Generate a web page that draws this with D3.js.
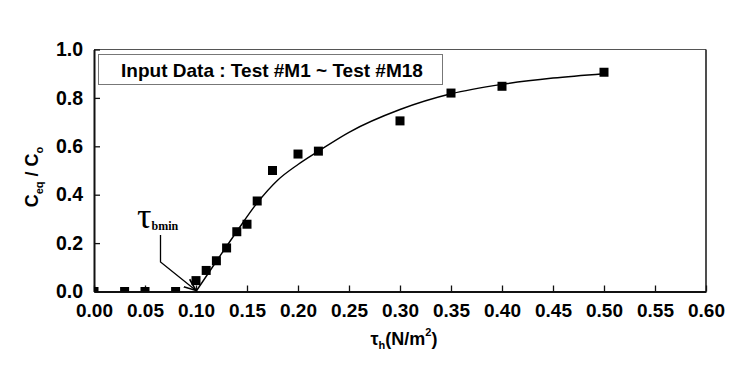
<!DOCTYPE html>
<html>
<head>
<meta charset="utf-8">
<script src="https://cdn.jsdelivr.net/npm/d3@7"></script>
<style>
  body { margin: 0; background: #fff; }
  svg { display: block; }
  .tick text { font-family: "Liberation Sans", Arial, sans-serif; font-weight: bold; }
</style>
</head>
<body>
<svg width="756" height="368"></svg>
<script>
// measured points (tau_h, Ceq/Co)
const tauH = [0.00, 0.03, 0.05, 0.08, 0.10, 0.11, 0.12, 0.13, 0.14, 0.15, 0.16, 0.175, 0.20, 0.22, 0.30, 0.35, 0.40, 0.50];
const ceqRatio = [0.0, 0.0, 0.0, 0.0, 0.045, 0.087, 0.127, 0.18, 0.247, 0.278, 0.374, 0.50, 0.568, 0.58, 0.705, 0.82, 0.848, 0.906];

// fitted curve
const fitX = [0.10, 0.12, 0.14, 0.16, 0.18, 0.20, 0.22, 0.25, 0.30, 0.35, 0.40, 0.45, 0.50];
const fitY = [0.0, 0.125, 0.248, 0.366, 0.46, 0.525, 0.58, 0.658, 0.752, 0.817, 0.856, 0.882, 0.90];

const xTicks = [0, 0.05, 0.1, 0.15, 0.2, 0.25, 0.3, 0.35, 0.4, 0.45, 0.5, 0.55, 0.6];
const yTicks = [0, 0.2, 0.4, 0.6, 0.8, 1.0];
const legendLabel = "Input Data : Test #M1 ~ Test #M18";
const tauMin = 0.10;

const svg = d3.select("svg");
const mLeft = 94, mRight = 706, mTop = 49.5, mBottom = 291.5;

const x = d3.scaleLinear().domain([0, 0.6]).range([mLeft, mRight]);
const y = d3.scaleLinear().domain([0, 1]).range([mBottom, mTop]);

svg.append("defs").append("clipPath").attr("id", "plotclip")
  .append("rect").attr("x", mLeft).attr("y", mTop).attr("width", mRight - mLeft).attr("height", mBottom - mTop);

// frame top / right
svg.append("line").attr("x1", mLeft).attr("x2", mRight).attr("y1", mTop).attr("y2", mTop)
  .attr("stroke", "#555").attr("stroke-width", 1);
svg.append("line").attr("x1", mRight).attr("x2", mRight).attr("y1", mTop).attr("y2", mBottom)
  .attr("stroke", "#222").attr("stroke-width", 1.6);

// axes
const xAxis = svg.append("g")
  .attr("transform", "translate(0," + mBottom + ")")
  .call(d3.axisBottom(x).tickValues(xTicks).tickFormat(d3.format(".2f")).tickSizeInner(-6).tickSizeOuter(0).tickPadding(12));
xAxis.selectAll("text").attr("font-size", 19).attr("fill", "#000");

const yAxis = svg.append("g")
  .attr("transform", "translate(" + mLeft + ",0)")
  .call(d3.axisLeft(y).tickValues(yTicks).tickFormat(d3.format(".1f")).tickSizeInner(-6).tickSizeOuter(0).tickPadding(11));
yAxis.selectAll("text").attr("font-size", 19.5).attr("fill", "#000");

[xAxis, yAxis].forEach(a => {
  a.select(".domain").attr("stroke", "#111").attr("stroke-width", 2);
  a.selectAll(".tick line").attr("stroke", "#111").attr("stroke-width", 1.3);
});

// fitted curve
const line = d3.line()
  .x((d, i) => x(fitX[i]))
  .y(d => y(d))
  .curve(d3.curveMonotoneX);
svg.append("path")
  .datum(fitY)
  .attr("d", line)
  .attr("fill", "none")
  .attr("stroke", "#000")
  .attr("stroke-width", 1.4);

// data markers
const sz = 9;
svg.append("g").attr("clip-path", "url(#plotclip)")
  .selectAll("rect")
  .data(tauH)
  .join("rect")
  .attr("x", d => x(d) - sz / 2)
  .attr("y", (d, i) => y(ceqRatio[i]) - sz / 2)
  .attr("width", sz)
  .attr("height", sz)
  .attr("fill", "#000");

// legend box
svg.append("rect")
  .attr("x", 98.5).attr("y", 54.5).attr("width", 344).attr("height", 30)
  .attr("fill", "#fff").attr("stroke", "#777").attr("stroke-width", 1);
svg.append("text")
  .attr("x", 272).attr("y", 77)
  .attr("text-anchor", "middle")
  .attr("font-family", "Liberation Sans, Arial, sans-serif")
  .attr("font-weight", "bold").attr("font-size", 19)
  .text(legendLabel);

// tau_bmin annotation
const ann = svg.append("text")
  .attr("x", 137).attr("y", 228)
  .attr("font-family", "Liberation Serif, Times New Roman, serif")
  .attr("font-weight", "bold");
ann.append("tspan").attr("font-size", 36).attr("font-weight", "normal").text("τ");
ann.append("tspan").attr("font-size", 12).attr("dy", 2).text("bmin");

svg.append("defs").append("marker")
  .attr("id", "arrow").attr("viewBox", "0 0 10 10")
  .attr("refX", 10).attr("refY", 5)
  .attr("markerWidth", 12).attr("markerHeight", 12)
  .attr("markerUnits", "userSpaceOnUse")
  .attr("orient", "auto")
  .append("path").attr("d", "M0,1 L10,5 L0,9").attr("fill", "none").attr("stroke", "#000").attr("stroke-width", 1.3);

svg.append("path")
  .attr("d", "M160.5,235 L160.5,262 L" + x(tauMin) + "," + (mBottom - 1))
  .attr("fill", "none").attr("stroke", "#000").attr("stroke-width", 1.3)
  .attr("marker-end", "url(#arrow)");

// axis titles
const yl = svg.append("text")
  .attr("transform", "translate(38,177) rotate(-90)")
  .attr("text-anchor", "middle")
  .attr("font-family", "Liberation Sans, Arial, sans-serif")
  .attr("font-weight", "bold").attr("font-size", 18);
yl.append("tspan").text("C");
yl.append("tspan").attr("font-size", 11).attr("dy", 5).text("eq");
yl.append("tspan").attr("dy", -5).text(" / C");
yl.append("tspan").attr("font-size", 11).attr("dy", 5).text("o");

const xl = svg.append("text")
  .attr("x", 404).attr("y", 345)
  .attr("text-anchor", "middle")
  .attr("font-family", "Liberation Sans, Arial, sans-serif")
  .attr("font-weight", "bold").attr("font-size", 18);
xl.append("tspan").text("τ");
xl.append("tspan").attr("font-size", 11).attr("dy", 4).text("h");
xl.append("tspan").attr("dy", -4).text("(N/m");
xl.append("tspan").attr("font-size", 11).attr("dy", -9).text("2");
xl.append("tspan").attr("dy", 9).text(")");
</script>
</body>
</html>
